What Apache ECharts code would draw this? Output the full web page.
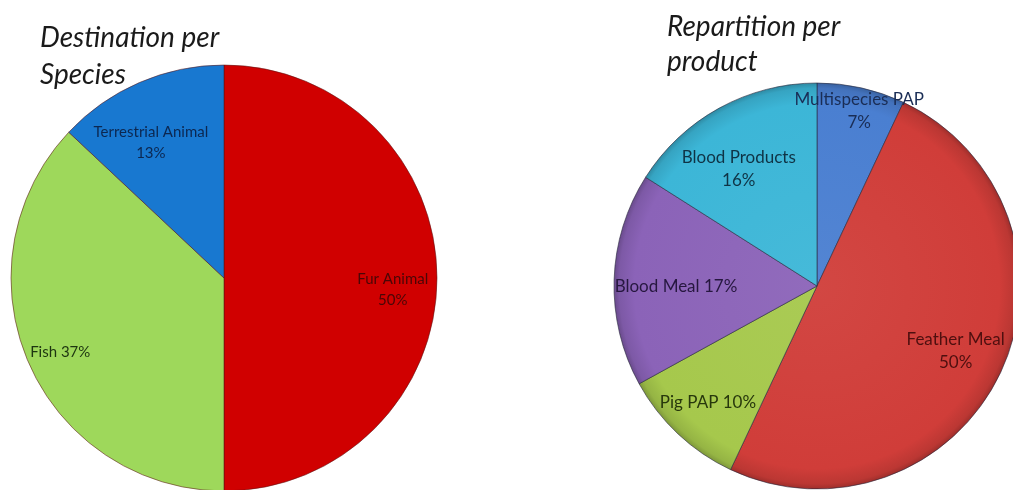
<!DOCTYPE html>
<html>
<head>
<meta charset="utf-8">
<script src="https://cdn.jsdelivr.net/npm/echarts@6/dist/echarts.min.js"></script>
<style>
  html, body { margin: 0; padding: 0; background: #ffffff; }
  #chart { width: 1013px; height: 490px; }
</style>
</head>
<body>
<div id="chart"></div>
<script>
// Left pie: destination per species
const speciesNames = ['Fur Animal', 'Fish', 'Terrestrial Animal'];
const speciesValues = [50, 37, 13];
const speciesLabels = ['Fur Animal\n50%', 'Fish 37%', 'Terrestrial Animal\n13%'];

// Right pie: repartition per product
const productNames = ['Multispecies PAP', 'Feather Meal', 'Pig PAP', 'Blood Meal', 'Blood Products'];
const productValues = [7, 50, 10, 17, 16];
const productLabels = ['Multispecies PAP\n7%', 'Feather Meal\n50%', 'Pig PAP 10%', 'Blood Meal 17%', 'Blood Products\n16%'];

// Styling for each pie
const leftPie = {
  center: [224, 278], radius: 213, fontSize: 15,
  colors: ['#d00000', '#9ed85b', '#1878d0'],
  labelColors: ['#4a0606', '#1d3510', '#0c2750'],
  labelRadius: [0.78, 0.83, 0.71],
  labelTurn: [4, -1, -5],
  gloss: false
};
const rightPie = {
  center: [817, 286], radius: 203, fontSize: 17,
  colors: ['#4a7fd1', '#d03d39', '#a6c84c', '#8b63b8', '#3cb6d7'],
  labelColors: ['#1a2d55', '#4e0f0f', '#27370c', '#26173f', '#0f3345'],
  labelRadius: [0.87, 0.74, 0.77, 0.68, 0.68],
  labelTurn: [1, 0, 0, -2, -5],
  gloss: true
};

function shade(hex, k) {
  const n = parseInt(hex.slice(1), 16);
  const c = [(n >> 16) & 255, (n >> 8) & 255, n & 255].map(v =>
    Math.max(0, Math.min(255, Math.round(k >= 0 ? v + (255 - v) * k : v * (1 + k)))));
  return 'rgb(' + c.join(',') + ')';
}

function sliceColor(cfg, base) {
  if (!cfg.gloss) return base;
  return {
    type: 'radial', global: true,
    x: cfg.center[0], y: cfg.center[1], r: cfg.radius,
    colorStops: [
      { offset: 0, color: shade(base, 0.05) },
      { offset: 0.9, color: base },
      { offset: 0.975, color: shade(base, -0.1) },
      { offset: 1, color: shade(base, -0.24) }
    ]
  };
}

// Offsets that carry each inside label from half radius out to its own radius
function labelShifts(values, cfg) {
  const total = values.reduce((a, b) => a + b, 0);
  let acc = 0;
  return values.map((v, i) => {
    const midDeg = (acc + v / 2) / total * 360;
    acc += v;
    const a0 = midDeg * Math.PI / 180;
    const a1 = (midDeg + cfg.labelTurn[i]) * Math.PI / 180;
    const r = cfg.radius;
    return {
      dx: cfg.labelRadius[i] * r * Math.sin(a1) - 0.5 * r * Math.sin(a0),
      dy: -cfg.labelRadius[i] * r * Math.cos(a1) + 0.5 * r * Math.cos(a0)
    };
  });
}

function pieSeries(cfg, names, values, labels, borderColor) {
  const shifts = labelShifts(values, cfg);
  return {
    type: 'pie',
    center: cfg.center,
    radius: [0, cfg.radius],
    startAngle: 90,
    clockwise: true,
    avoidLabelOverlap: false,
    animation: false,
    silent: true,
    itemStyle: { borderColor: borderColor, borderWidth: 1 },
    label: {
      show: true, position: 'inside',
      fontFamily: 'Lato', fontSize: cfg.fontSize, lineHeight: cfg.fontSize + 6,
      align: 'center', overflow: 'none'
    },
    labelLine: { show: false },
    labelLayout: function (p) {
      return { dx: shifts[p.dataIndex].dx, dy: shifts[p.dataIndex].dy, hideOverlap: false };
    },
    emphasis: { disabled: true },
    data: names.map((name, i) => ({
      name, value: values[i],
      itemStyle: { color: sliceColor(cfg, cfg.colors[i]) },
      label: { formatter: labels[i], color: cfg.labelColors[i] }
    }))
  };
}

const chart = echarts.init(document.getElementById('chart'), null, { renderer: 'canvas' });
chart.setOption({
  backgroundColor: '#ffffff',
  title: [
    {
      text: 'Destination per\nSpecies', left: 35, top: 14,
      textStyle: { fontFamily: 'Lato', fontStyle: 'italic', fontWeight: 'normal', fontSize: 28, lineHeight: 37, color: '#1a1a1a' }
    },
    {
      text: 'Repartition per\nproduct', left: 662, top: 4,
      textStyle: { fontFamily: 'Lato', fontStyle: 'italic', fontWeight: 'normal', fontSize: 28, lineHeight: 35, color: '#1a1a1a' }
    }
  ],
  series: [
    pieSeries(leftPie, speciesNames, speciesValues, speciesLabels, 'rgba(90,20,20,0.55)'),
    pieSeries(rightPie, productNames, productValues, productLabels, 'rgba(40,40,60,0.6)')
  ]
});
</script>
</body>
</html>
